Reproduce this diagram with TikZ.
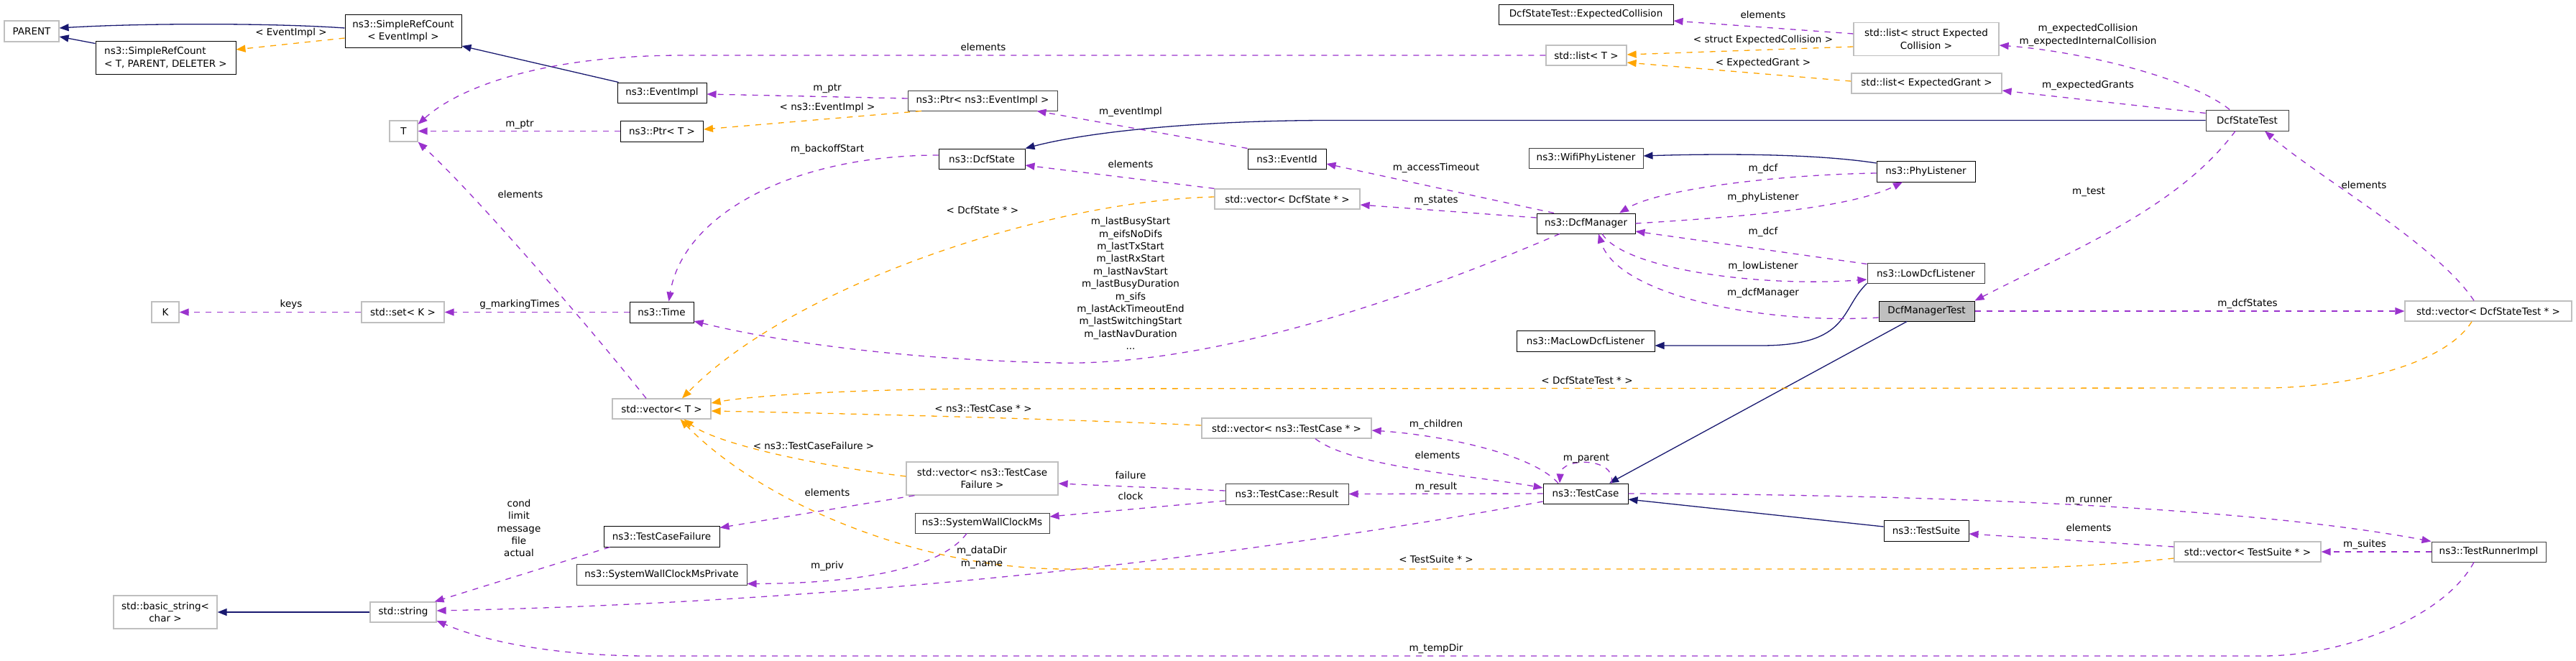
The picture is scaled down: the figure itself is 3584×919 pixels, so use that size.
\documentclass[tikz,border=0pt]{standalone}
\usepackage{fontspec}
\setmainfont{DejaVu Sans}
\usetikzlibrary{arrows.meta}
\definecolor{navy}{HTML}{191970}
\definecolor{usecol}{HTML}{9A32CD}
\definecolor{tplcol}{HTML}{FFA500}
\definecolor{ugray}{HTML}{BFBFBF}
\definecolor{dgray}{HTML}{404040}
\tikzset{
  cls/.style={draw=black, line width=1pt, fill=white, inner sep=0pt, minimum height=28pt, align=center},
  und/.style={cls, draw=ugray, line width=1.2pt},
  dk/.style={cls, draw=dgray},
  tall/.style={minimum height=46pt},
  lbl/.style={inner sep=0pt, text height=10pt, text depth=3pt},
  mlbl/.style={inner sep=0pt, align=center},
  tipa/.tip={Triangle[length=13pt,width=10pt]},
  inh/.style={draw=navy, line width=1.3pt, -tipa},
  use/.style={draw=usecol, line width=1.3pt, dash pattern=on 8pt off 8pt, -tipa},
  tpl/.style={draw=tplcol, line width=1.3pt, dash pattern=on 8pt off 8pt, -tipa}
}
\begin{document}
\begin{tikzpicture}[x=1pt,y=-1pt,font=\fontsize{13.5pt}{17.4pt}\selectfont]
\useasboundingbox (0,0) rectangle (3584,919);
% ---------------- nodes ----------------
\node[und, minimum width=76pt, minimum height=29pt] (parent) at (44,43.5) {PARENT};
\node[cls, minimum width=195pt, tall, align=left] (srcTPD) at (230.5,80) {ns3::SimpleRefCount\\< T, PARENT, DELETER >};
\node[cls, minimum width=162pt, tall] (srcEI) at (561,43.5) {ns3::SimpleRefCount\\< EventImpl >};
\node[cls, minimum width=124pt] (eventImpl) at (921,129) {ns3::EventImpl};
\node[und, minimum width=39pt, minimum height=29pt] (T) at (561.5,182.5) {T};
\node[cls, minimum width=115pt, minimum height=29pt] (ptrT) at (921,182.5) {ns3::Ptr< T >};
\node[dk, minimum width=208pt] (ptrEI) at (1367,140) {ns3::Ptr< ns3::EventImpl >};
\node[cls, minimum width=120pt] (dcfState) at (1366,221) {ns3::DcfState};
\node[und, minimum width=112pt] (listT) at (2207,77) {std::list< T >};
\node[cls, minimum width=243pt] (expColl) at (2206.5,20) {DcfStateTest::ExpectedCollision};
\node[und, minimum width=202pt, tall] (listEC) at (2680,54.5) {std::list< struct Expected\\Collision >};
\node[und, minimum width=209pt] (listEG) at (2680.5,116) {std::list< ExpectedGrant >};
\node[dk, minimum width=115pt, minimum height=29pt] (dcfStateTest) at (3126.5,167.5) {DcfStateTest};
\node[cls, minimum width=109pt] (eventId) at (1790.5,221) {ns3::EventId};
\node[dk, minimum width=159pt] (wifiPhyL) at (2206.5,220) {ns3::WifiPhyListener};
\node[cls, minimum width=137pt, minimum height=29pt] (phyL) at (2679.5,238.5) {ns3::PhyListener};
\node[und, minimum width=202pt] (vecDS) at (1791,277) {std::vector< DcfState * >};
\node[cls, minimum width=137pt] (dcfMgr) at (2206.5,311) {ns3::DcfManager};
\node[dk, minimum width=163pt] (lowDcfL) at (2679.5,380) {ns3::LowDcfListener};
\node[cls, fill=ugray, minimum width=133pt] (dcfMgrTest) at (2680.5,433) {DcfManagerTest};
\node[und, minimum width=232pt] (vecDST) at (3462,433) {std::vector< DcfStateTest * >};
\node[und, minimum width=38pt, minimum height=29pt] (K) at (230,434.5) {K};
\node[und, minimum width=115pt, minimum height=29pt] (setK) at (560.5,434.5) {std::set< K >};
\node[cls, minimum width=89pt, minimum height=29pt] (time) at (920.5,434.5) {ns3::Time};
\node[cls, minimum width=192pt, minimum height=29pt] (macLow) at (2206,474.5) {ns3::MacLowDcfListener};
\node[und, minimum width=137pt] (vecT) at (920.5,569) {std::vector< T >};
\node[und, minimum width=236pt] (vecTC) at (1790,596) {std::vector< ns3::TestCase * >};
\node[und, minimum width=211pt, tall] (vecTCF) at (1366.5,666) {std::vector< ns3::TestCase\\Failure >};
\node[dk, minimum width=171pt, minimum height=29pt] (result) at (1790.5,687.5) {ns3::TestCase::Result};
\node[cls, minimum width=118pt] (testCase) at (2206,687) {ns3::TestCase};
\node[dk, minimum width=187pt] (swcm) at (1366.5,728) {ns3::SystemWallClockMs};
\node[cls, minimum width=161pt, minimum height=29pt] (tcf) at (920.5,746.5) {ns3::TestCaseFailure};
\node[dk, minimum width=237pt, minimum height=29pt] (swcmp) at (920.5,799.5) {ns3::SystemWallClockMsPrivate};
\node[cls, minimum width=118pt, minimum height=29pt] (testSuite) at (2680,738.5) {ns3::TestSuite};
\node[und, minimum width=204pt] (vecTS) at (3127,768) {std::vector< TestSuite * >};
\node[dk, minimum width=159pt] (runner) at (3462.5,768) {ns3::TestRunnerImpl};
\node[und, minimum width=144pt, tall] (basicStr) at (230,852) {std::basic\_string<\\char >};
\node[und, minimum width=92pt] (string) at (561,852) {std::string};
% ---------------- inheritance (navy) ----------------
\draw[inh] ([yshift=4.5pt]srcEI.west) .. controls (380,32) and (200,32) .. ([yshift=4.5pt]parent.east);
\draw[inh] ([yshift=-4pt]srcTPD.north west) -- ([yshift=-7.5pt]parent.east);
\draw[inh] ([xshift=2pt]eventImpl.north west) -- ([yshift=3pt]srcEI.south east);
\draw[inh] (dcfStateTest.west) -- (1850,167.5) .. controls (1680,167.5) and (1520,182) .. (dcfState.north east);
\draw[inh] ([yshift=11.5pt]phyL.west) .. controls (2520,213) and (2380,214) .. ([yshift=3pt]wifiPhyL.east);
\draw[inh] (lowDcfL.south west) .. controls (2560,430) and (2575,481) .. (2450,481) -- ([yshift=-6.5pt]macLow.east);
\draw[inh] ([xshift=-27.5pt]dcfMgrTest.south) -- ([xshift=33pt]testCase.north);
\draw[inh] ([yshift=5.5pt]testSuite.west) -- ([yshift=-8pt]testCase.east);
\draw[inh] (string.west) -- (basicStr.east);
% ---------------- usage (purple) ----------------
\draw[use] (listT.west) -- (950,77) .. controls (760,77) and (640,120) .. ([yshift=9.5pt]T.east);
\draw[use] (ptrT.west) -- (T.east);
\draw[use] ([xshift=-21.5pt]vecT.north) .. controls (800,430) and (650,260) .. (T.south east);
\draw[use] ([yshift=3pt]ptrEI.west) -- ([yshift=-2pt]eventImpl.east);
\draw[use] (eventId.north west) -- ([xshift=-29pt]ptrEI.south east);
\draw[use] ([yshift=5pt]dcfState.west) .. controls (1100,216) and (950,300) .. ([xshift=10pt]time.north);
\draw[use] (vecDS.north west) -- ([yshift=-9pt]dcfState.east);
\draw[use] ([yshift=7.5pt]listEC.west) -- ([yshift=-9pt]expColl.east);
\draw[use] ([xshift=-44.5pt]dcfMgr.north) -- ([yshift=-7pt]eventId.east);
\draw[use] ([yshift=8pt]dcfMgr.west) -- ([yshift=-8pt]vecDS.east);
\draw[use] ([yshift=-2.5pt]phyL.west) .. controls (2480,243) and (2310,262) .. ([xshift=46.5pt]dcfMgr.north);
\draw[use] (dcfMgr.east) .. controls (2400,303) and (2570,292) .. ([xshift=-32.5pt]phyL.south);
\draw[use] ([yshift=-2pt]lowDcfL.north west) -- ([yshift=-11pt]dcfMgr.east);
\draw[use] ([xshift=22.5pt]dcfMgr.south) .. controls (2260,375) and (2450,400) .. ([yshift=-9pt]lowDcfL.west);
\draw[use] ([yshift=-9pt]dcfMgrTest.west) .. controls (2450,452) and (2250,410) .. ([xshift=17.5pt]dcfMgr.south);
\draw[use] ([xshift=-36.5pt]dcfMgr.south) .. controls (1950,420) and (1680,510) .. (1468,505) .. controls (1250,500) and (1080,475) .. ([yshift=-12.5pt]time.east);
\draw[use] ([xshift=-24.5pt]dcfStateTest.north) .. controls (3050,110) and (2900,72) .. ([yshift=-8.5pt]listEC.east);
\draw[use] ([yshift=-5pt]dcfStateTest.north west) -- ([yshift=-10pt]listEG.east);
\draw[use] ([xshift=-16.5pt]dcfStateTest.south) .. controls (3030,290) and (2880,350) .. (dcfMgrTest.north east);
\draw[use] ([xshift=-20pt]vecDST.north) .. controls (3390,340) and (3230,250) .. ([xshift=24.5pt]dcfStateTest.south);
\draw[use] (dcfMgrTest.east) -- (vecDST.west);
\draw[use] (setK.west) -- (K.east);
\draw[use] (time.west) -- (setK.east);
\draw[use] ([xshift=-38pt]testCase.north) .. controls (2130,630) and (2000,605) .. ([yshift=-3pt]vecTC.east);
\draw[use] ([xshift=40pt]vecTC.south) .. controls (1880,650) and (2050,662) .. ([yshift=8pt]testCase.west);
\draw[use] ([xshift=36pt]testCase.north) .. controls (2250,636) and (2172,636) .. ([xshift=-36pt]testCase.north);
\draw[use] (testCase.west) -- (result.east);
\draw[use] ([yshift=4.5pt]result.west) -- ([yshift=-7pt]vecTCF.east);
\draw[use] ([yshift=-9.5pt]result.west) -- ([yshift=9pt]swcm.east);
\draw[use] ([xshift=12pt]vecTCF.south west) -- ([yshift=12pt]tcf.east);
\draw[use] ([xshift=-21.5pt]swcm.south) .. controls (1310,790) and (1200,812) .. ([yshift=-13pt]swcmp.east);
\draw[use] ([yshift=-11pt]testCase.west) .. controls (1650,790) and (1100,840) .. ([yshift=2pt]string.east);
\draw[use] (testCase.east) .. controls (2600,688) and (3100,700) .. (runner.north west);
\draw[use] ([yshift=7pt]vecTS.west) -- ([yshift=-4.5pt]testSuite.east);
\draw[use] (runner.west) -- (vecTS.east);
\draw[use] ([xshift=-20.5pt]runner.south) .. controls (3400,860) and (3260,913) .. (3148,913) -- (903,913) .. controls (780,913) and (680,895) .. ([yshift=-12pt]string.east);
\draw[use] ([xshift=9pt]tcf.south west) -- ([xshift=-3pt]string.north east);
% ---------------- template instances (orange) ----------------
\draw[tpl] ([yshift=-9.5pt]srcEI.west) -- ([yshift=11pt]srcTPD.east);
\draw[tpl] ([xshift=-85pt]ptrEI.south) -- ([yshift=2.5pt]ptrT.east);
\draw[tpl] ([yshift=-10.5pt]listEC.west) -- ([yshift=1pt]listT.east);
\draw[tpl] ([yshift=3pt]listEG.west) -- ([yshift=-10pt]listT.east);
\draw[tpl] ([yshift=3pt]vecDS.west) .. controls (1450,280) and (1100,400) .. ([xshift=28.5pt]vecT.north);
\draw[tpl] ([xshift=-23pt]vecDST.south) .. controls (3400,510) and (3260,540) .. (3148,540) -- (1350,541) .. controls (1150,543) and (1040,552) .. ([yshift=8pt]vecT.east);
\draw[tpl] ([yshift=4pt]vecTC.west) .. controls (1450,582) and (1150,575) .. ([yshift=-3pt]vecT.east);
\draw[tpl] ([yshift=3pt]vecTCF.west) .. controls (1150,650) and (1000,620) .. ([xshift=31pt]vecT.south);
\draw[tpl] ([yshift=-9pt]vecTS.west) .. controls (2900,790) and (2800,792) .. (2700,792) -- (1487,792) .. controls (1280,793) and (1060,700) .. ([xshift=26pt]vecT.south);
% ---------------- labels ----------------
\node[lbl] (l01) at (405,46) {< EventImpl >};
\node[lbl] (l02) at (723,173) {m\_ptr};
\node[lbl] (l03) at (724,272) {elements};
\node[lbl] (l04) at (1368,67) {elements};
\node[lbl] (l05) at (1151,123) {m\_ptr};
\node[lbl] (l06) at (1151,150) {< ns3::EventImpl >};
\node[lbl] (l07) at (1573,156) {m\_eventImpl};
\node[lbl] (l08) at (1151,208) {m\_backoffStart};
\node[lbl] (l09) at (1573,230) {elements};
\node[lbl] (l10) at (1367,294) {< DcfState * >};
\node[lbl] (l11) at (2453,22) {elements};
\node[lbl] (l12) at (2453,56) {< struct ExpectedCollision >};
\node[lbl] (l13) at (2453,88) {< ExpectedGrant >};
\node[mlbl] (l14) at (2905,49) {m\_expectedCollision\\m\_expectedInternalCollision};
\node[lbl] (l15) at (2905,119) {m\_expectedGrants};
\node[lbl] (l16) at (1998,234) {m\_accessTimeout};
\node[lbl] (l17) at (1998,279) {m\_states};
\node[lbl] (l18) at (2453,235) {m\_dcf};
\node[lbl] (l19) at (2453,275) {m\_phyListener};
\node[lbl] (l20) at (2453,323) {m\_dcf};
\node[lbl] (l21) at (2453,371) {m\_lowListener};
\node[lbl] (l22) at (2453,408) {m\_dcfManager};
\node[lbl] (l23) at (2906,267) {m\_test};
\node[lbl] (l24) at (3289,259) {elements};
\node[lbl] (l25) at (3127,423) {m\_dcfStates};
\node[lbl] (l26) at (405,424) {keys};
\node[lbl] (l27) at (723,424) {g\_markingTimes};
\node[mlbl] (l28) at (1573,394.5) {m\_lastBusyStart\\m\_eifsNoDifs\\m\_lastTxStart\\m\_lastRxStart\\m\_lastNavStart\\m\_lastBusyDuration\\m\_sifs\\m\_lastAckTimeoutEnd\\m\_lastSwitchingStart\\m\_lastNavDuration\\...};
\node[lbl] (l29) at (2208,531) {< DcfStateTest * >};
\node[lbl] (l30) at (1368,570) {< ns3::TestCase * >};
\node[lbl] (l31) at (1998,591) {m\_children};
\node[lbl] (l32) at (2000,635) {elements};
\node[lbl] (l33) at (2207,638) {m\_parent};
\node[lbl] (l34) at (1998,678) {m\_result};
\node[lbl] (l35) at (1573,663) {failure};
\node[lbl] (l36) at (1573,692) {clock};
\node[lbl] (l37) at (1132,622) {< ns3::TestCaseFailure >};
\node[lbl] (l38) at (1151,687) {elements};
\node[mlbl] (l39) at (722,735) {cond\\limit\\message\\file\\actual};
\node[lbl] (l40) at (1151,788) {m\_priv};
\node[mlbl] (l41) at (1366,776) {m\_dataDir\\m\_name};
\node[lbl] (l42) at (1998,780) {< TestSuite * >};
\node[lbl] (l43) at (2906,696) {m\_runner};
\node[lbl] (l44) at (2906,736) {elements};
\node[lbl] (l45) at (3290,758) {m\_suites};
\node[lbl] (l46) at (1998,903) {m\_tempDir};
\end{tikzpicture}
\end{document}
